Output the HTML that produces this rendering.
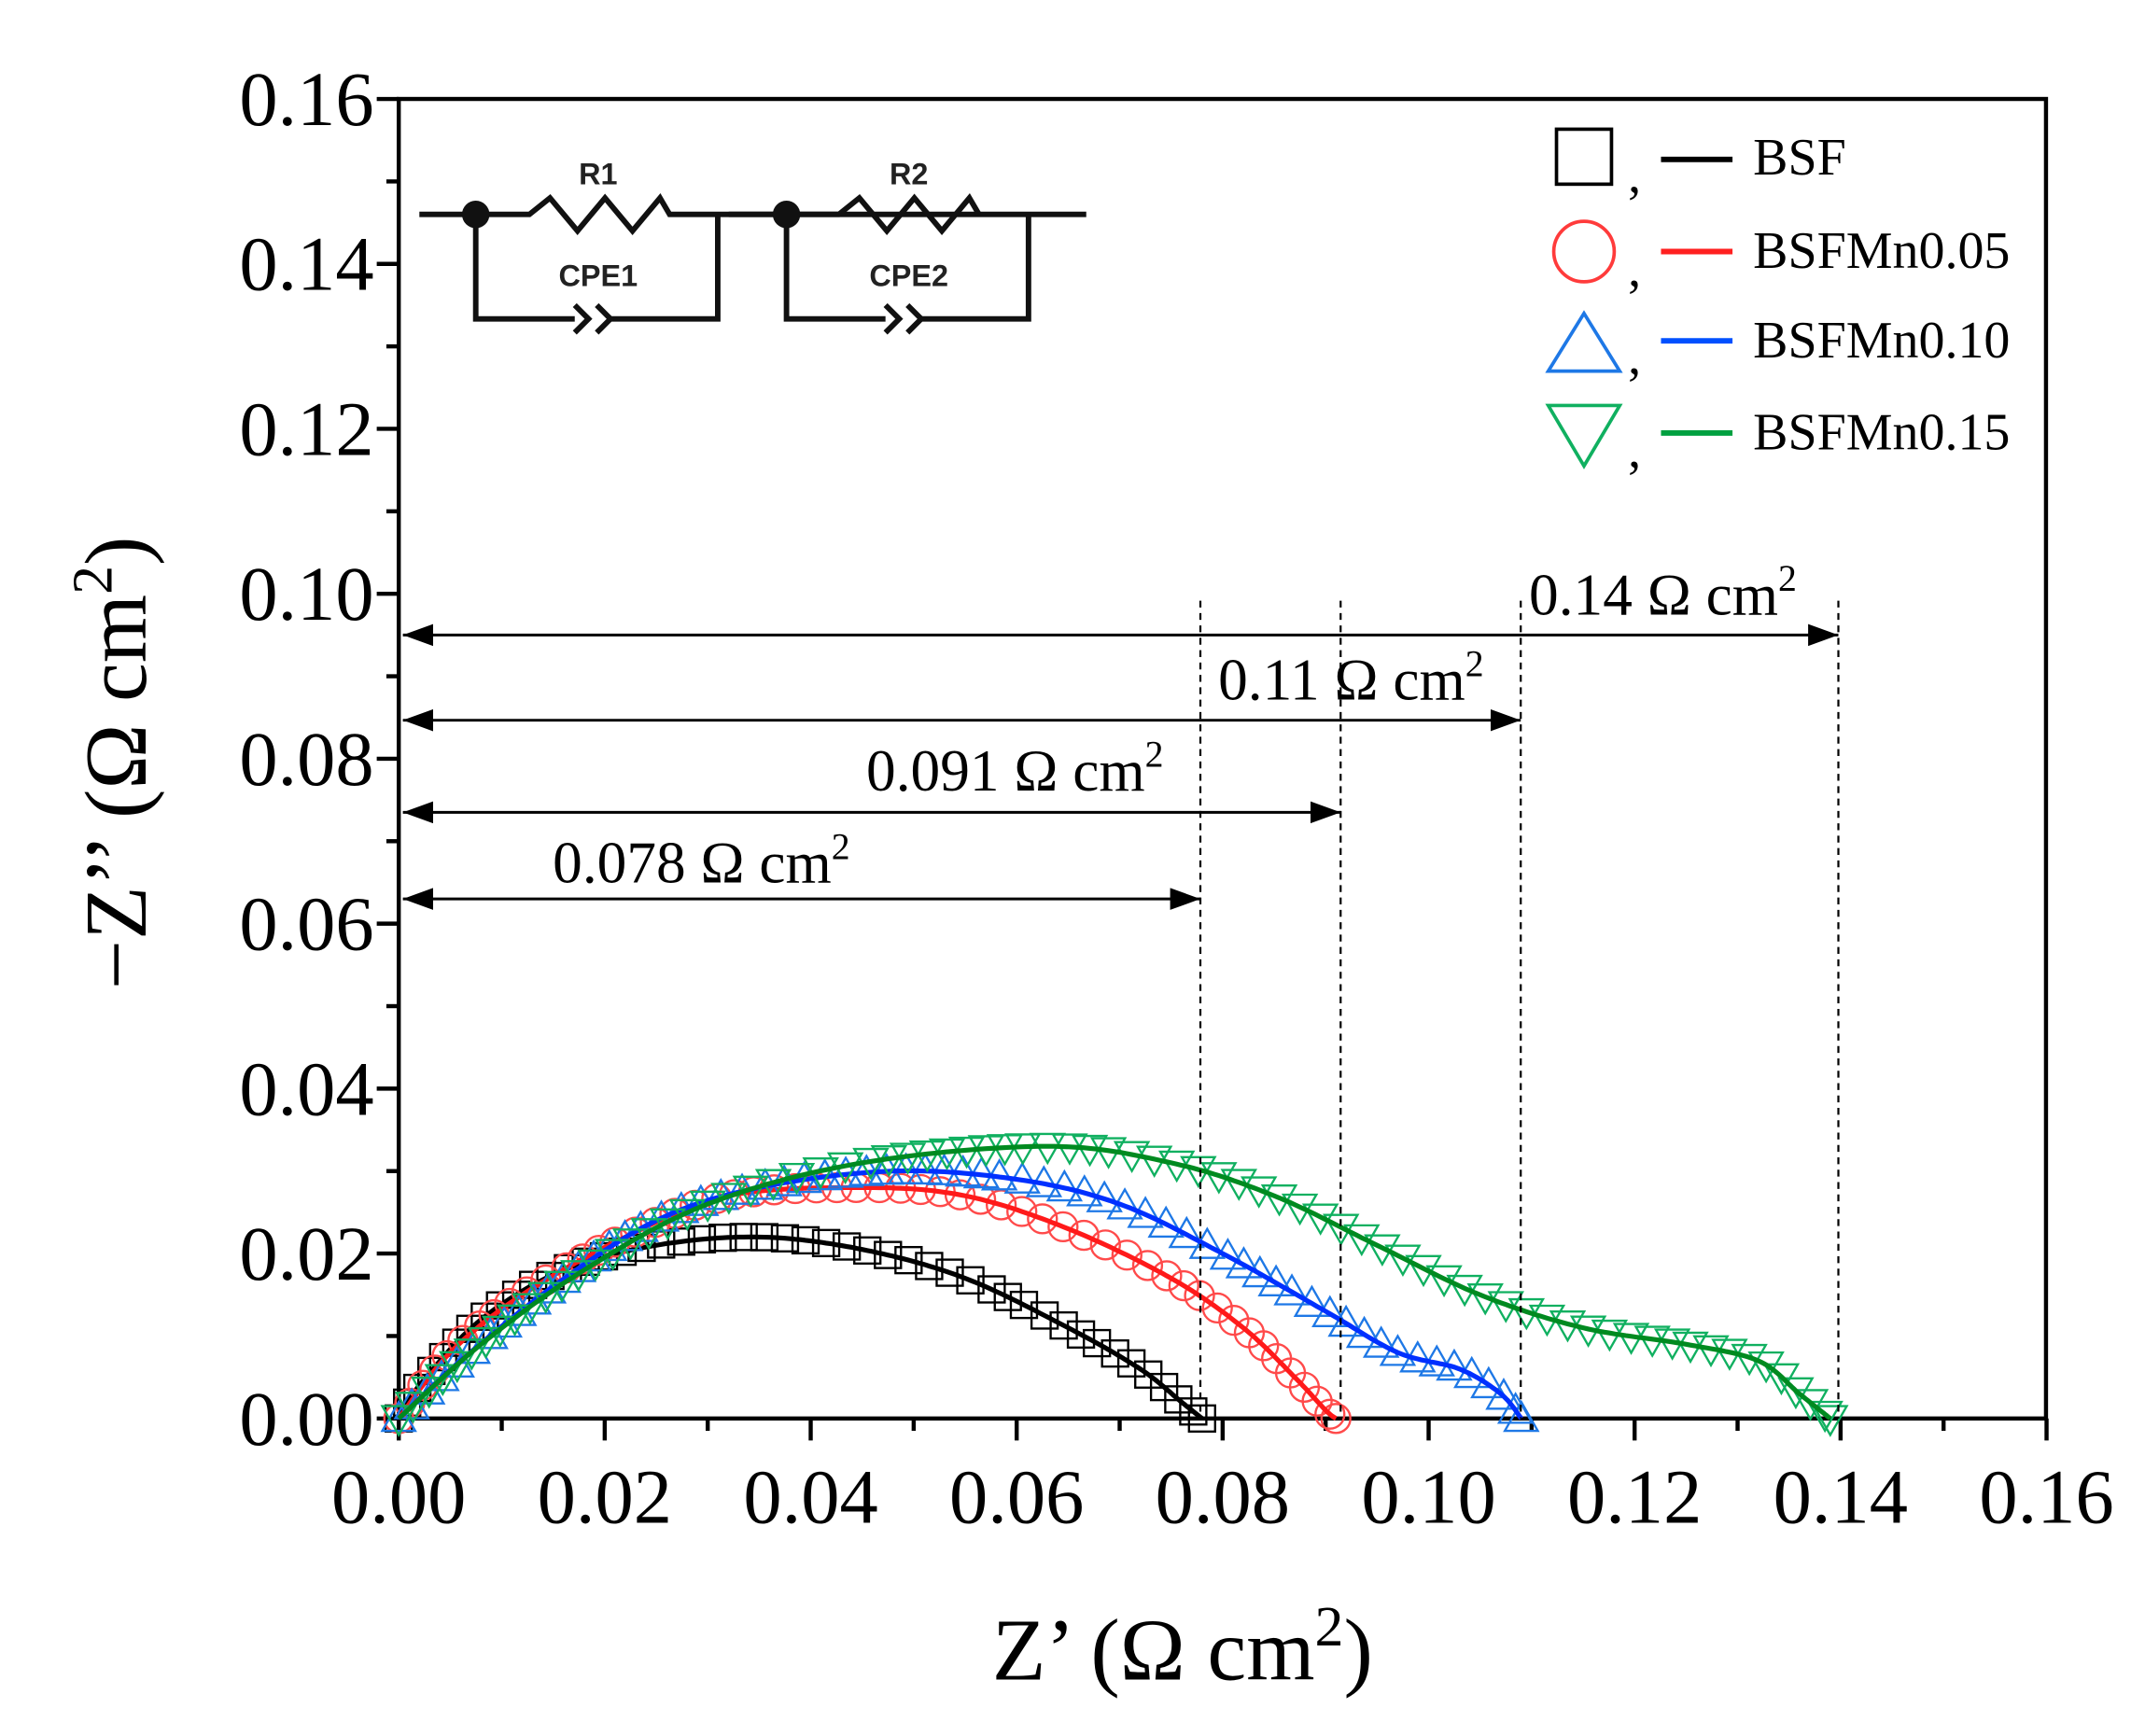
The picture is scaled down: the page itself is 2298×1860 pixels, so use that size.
<!DOCTYPE html>
<html><head><meta charset="utf-8"><style>
html,body{margin:0;padding:0;background:#fff;}
svg{display:block}
text{font-family:"Liberation Serif",serif;fill:#000}
.cp{font-family:"Liberation Sans",sans-serif;font-weight:bold;fill:#222}
</style></head><body>
<svg id="s" xmlns="http://www.w3.org/2000/svg" width="2298" height="1860" viewBox="0 0 1560 1263" preserveAspectRatio="none">
<defs>
<marker id="ahb" markerWidth="22" markerHeight="16" refX="22" refY="8" orient="auto-start-reverse" markerUnits="userSpaceOnUse" viewBox="0 0 22 16">
<path d="M0,0 L22,8 L0,16 z" fill="#000"/></marker>
</defs>
<rect x="290" y="72" width="1198" height="960" fill="none" stroke="#000" stroke-width="3"/>
<g id="ticks" stroke="#000" stroke-width="3"></g>
<g id="labels" font-size="56"></g>
<g id="data"></g>
<g stroke="#000" stroke-width="1.5" stroke-dasharray="5,4" fill="none">
<line x1="873" y1="437" x2="873" y2="1032"/>
<line x1="975" y1="437" x2="975" y2="1032"/>
<line x1="1106" y1="437" x2="1106" y2="1032"/>
<line x1="1337" y1="437" x2="1337" y2="1032"/>
</g>
<g stroke="#000" stroke-width="2" marker-start="url(#ahb)" marker-end="url(#ahb)">
<line x1="293" y1="462" x2="1337" y2="462"/>
<line x1="293" y1="524" x2="1106" y2="524"/>
<line x1="293" y1="591" x2="975" y2="591"/>
<line x1="293" y1="654" x2="873" y2="654"/>
</g>
<g font-size="43">
<text x="1112" y="447">0.14 Ω cm<tspan font-size="27" dy="-17">2</tspan></text>
<text x="886" y="509">0.11 Ω cm<tspan font-size="27" dy="-17">2</tspan></text>
<text x="630" y="575">0.091 Ω cm<tspan font-size="27" dy="-17">2</tspan></text>
<text x="402" y="642">0.078 Ω cm<tspan font-size="27" dy="-17">2</tspan></text>
</g>
<g stroke="#111" stroke-width="4" fill="none">
<path d="M305,156 H385 L400,144 L420,168 L440,144 L460,168 L480,144 L487,156 H790"/>
<path d="M346,156 V232 H418 M442,232 H522 V156"/>
<path d="M418,222 L428,232 L418,242 M434,222 L444,232 L434,242"/>
<path d="M530,156 H610 L625,144 L645,168 L665,144 L685,168 L705,144 L712,156"/>
<path d="M572,156 V232 H644 M668,232 H748 V156"/>
<path d="M644,222 L654,232 L644,242 M660,222 L670,232 L660,242"/>
</g>
<circle cx="346" cy="156" r="10" fill="#111"/>
<circle cx="572" cy="156" r="10" fill="#111"/>
<text class="cp" x="435" y="134" font-size="22" text-anchor="middle">R1</text>
<text class="cp" x="661" y="134" font-size="22" text-anchor="middle">R2</text>
<text class="cp" x="435" y="208" font-size="22" text-anchor="middle">CPE1</text>
<text class="cp" x="661" y="208" font-size="22" text-anchor="middle">CPE2</text>
<g fill="none" stroke-width="2.5">
<rect x="1132" y="94" width="40" height="40" stroke="#000"/>
<circle cx="1152" cy="183" r="22" stroke="#ff3b3b"/>
<path d="M1126,270 L1152,228 L1178,270 z" stroke="#1e78e6"/>
<path d="M1126,295 L1152,339 L1178,295 z" stroke="#10b060"/>
</g>
<g stroke-width="4">
<line x1="1208" y1="116" x2="1260" y2="116" stroke="#000"/>
<line x1="1208" y1="183" x2="1260" y2="183" stroke="#ff2020"/>
<line x1="1208" y1="248" x2="1260" y2="248" stroke="#0050ff"/>
<line x1="1208" y1="315" x2="1260" y2="315" stroke="#00a040"/>
</g>
<g font-size="38">
<text x="1184" y="140">,</text><text x="1184" y="208">,</text><text x="1184" y="272">,</text><text x="1184" y="340">,</text>
<text x="1275" y="127">BSF</text>
<text x="1275" y="195">BSFMn0.05</text>
<text x="1275" y="260">BSFMn0.10</text>
<text x="1275" y="327">BSFMn0.15</text>
</g>
<text x="860" y="1222" font-size="64" text-anchor="middle">Z’ (Ω cm<tspan font-size="42" dy="-25">2</tspan><tspan dy="25">)</tspan></text>
<text transform="translate(106,555) rotate(-90)" font-size="64" text-anchor="middle">−Z’’ (Ω cm<tspan font-size="42" dy="-25">2</tspan><tspan dy="25">)</tspan></text>
</svg>
<script>
var NS="http://www.w3.org/2000/svg";
function X(v){return 290+7490*v}
function Y(v){return 1032-6000*v}
function el(t,a,p){var e=document.createElementNS(NS,t);for(var k in a)e.setAttribute(k,a[k]);if(p)p.appendChild(e);return e}
var tk=document.getElementById('ticks'),lb=document.getElementById('labels');
for(var i=0;i<=16;i++){
 var x=X(i/100),y=Y(i/100),maj=i%2==0;
 el('line',{x1:x,y1:1032,x2:x,y2:1032+(maj?16:9)},tk);
 el('line',{x1:290,y1:y,x2:290-(maj?16:9),y2:y},tk);
 if(maj){
  var t=el('text',{x:x,y:1108,'text-anchor':'middle'},lb);t.textContent=(i/100).toFixed(2);
  var t2=el('text',{x:272,y:y+19,'text-anchor':'end'},lb);t2.textContent=(i/100).toFixed(2);
 }
}
var S=[
 {lc:'#000',mc:'#000',m:'sq',p:[[0,0],[0.002,0.004],[0.008,0.012],[0.016,0.018],[0.025,0.021],[0.035,0.022],[0.045,0.0205],[0.055,0.017],[0.065,0.011],[0.072,0.006],[0.076,0.002],[0.078,0]]},
 {lc:'#ff1a1a',mc:'#ff4a4a',m:'ci',p:[[0,0],[0.005,0.008],[0.012,0.015],[0.022,0.022],[0.032,0.027],[0.045,0.028],[0.055,0.027],[0.065,0.023],[0.075,0.017],[0.082,0.011],[0.087,0.005],[0.09,0.001],[0.091,0]]},
 {lc:'#0030ff',mc:'#1e78e6',m:'tu',p:[[0,0],[0.006,0.007],[0.015,0.016],[0.025,0.024],[0.035,0.028],[0.048,0.030],[0.06,0.029],[0.07,0.026],[0.08,0.02],[0.09,0.013],[0.097,0.008],[0.103,0.006],[0.107,0.003],[0.109,0]]},
 {lc:'#008a20',mc:'#10b060',m:'td',p:[[0,0],[0.008,0.009],[0.018,0.018],[0.03,0.026],[0.045,0.031],[0.063,0.033],[0.075,0.031],[0.085,0.027],[0.095,0.021],[0.105,0.015],[0.115,0.011],[0.125,0.009],[0.132,0.007],[0.136,0.003],[0.139,0]]}
];
var g=document.getElementById('data');
function cr(p0,p1,p2,p3,t){var t2=t*t,t3=t2*t;return 0.5*((2*p1)+(-p0+p2)*t+(2*p0-5*p1+4*p2-p3)*t2+(-p0+3*p1-3*p2+p3)*t3)}
S.forEach(function(s){
 var P=s.p.map(function(q){return [X(q[0]),Y(q[1])]}),pts=[];
 for(var i=0;i<P.length-1;i++){var a=P[Math.max(0,i-1)],b=P[i],c=P[i+1],d=P[Math.min(P.length-1,i+2)];
  for(var k=0;k<20;k++){var t=k/20;pts.push([cr(a[0],b[0],c[0],d[0],t),cr(a[1],b[1],c[1],d[1],t)])}}
 pts.push(P[P.length-1]);
 var mg=el('g',{fill:'none',stroke:s.mc,'stroke-width':1.6},g),acc=0;
 function mk(x,y){
  if(s.m=='sq')el('rect',{x:x-9.5,y:y-9.5,width:19,height:19},mg);
  else if(s.m=='ci')el('circle',{cx:x,cy:y,r:10.5},mg);
  else if(s.m=='tu')el('path',{d:'M'+(x-12)+','+(y+9)+' L'+x+','+(y-12)+' L'+(x+12)+','+(y+9)+'z'},mg);
  else el('path',{d:'M'+(x-12)+','+(y-9)+' L'+x+','+(y+12)+' L'+(x+12)+','+(y-9)+'z'},mg);
 }
 mk(pts[0][0],pts[0][1]);
 for(var i=1;i<pts.length;i++){var dx=pts[i][0]-pts[i-1][0],dy=pts[i][1]-pts[i-1][1];acc+=Math.sqrt(dx*dx+dy*dy);
  if(acc>=13){mk(pts[i][0],pts[i][1]);acc=0}}
 var e=pts[pts.length-1]; mk(e[0],e[1]);
 el('path',{d:'M'+pts.map(function(q){return q[0].toFixed(1)+','+q[1].toFixed(1)}).join(' L'),fill:'none',stroke:s.lc,'stroke-width':3.5},g);
});
</script>
</body></html>
